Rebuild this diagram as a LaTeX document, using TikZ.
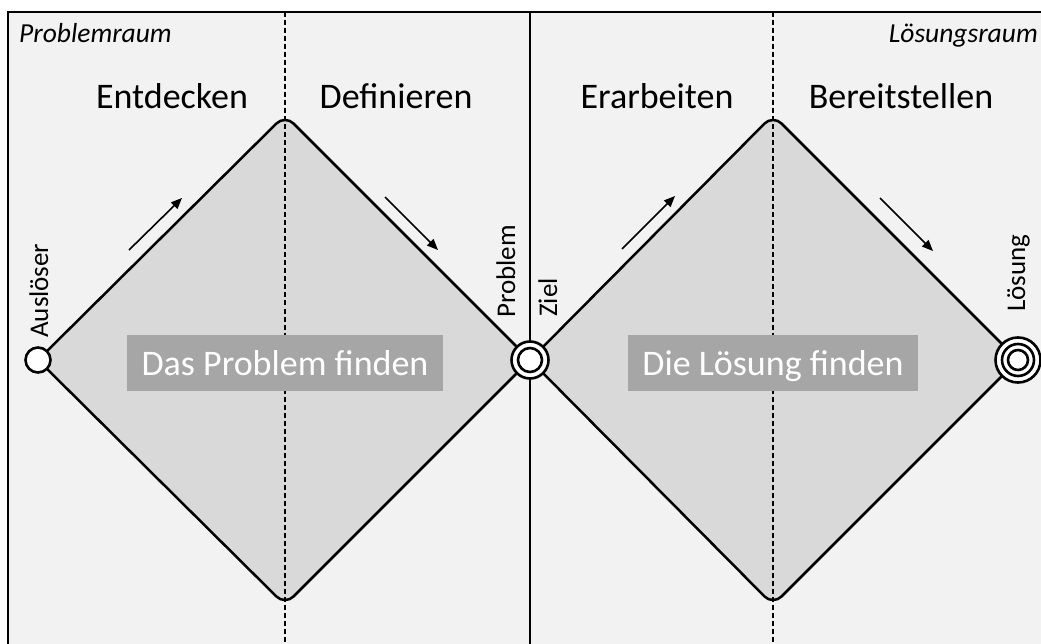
\documentclass[tikz,border=0pt]{standalone}
\usepackage{fontspec}
\setmainfont{Carlito}
\usetikzlibrary{arrows.meta}
\definecolor{bgc}{HTML}{F2F2F2}
\definecolor{dfill}{HTML}{D9D9D9}
\definecolor{boxc}{HTML}{A6A6A6}
\begin{document}
\begin{tikzpicture}[x=1pt,y=-1pt,
  frameline/.style={line width=2pt},
  diamondshape/.style={fill=dfill,draw=black,line width=2.5pt,rounded corners=12pt},
  divider/.style={line width=1.6pt,dash pattern=on 5pt off 3pt},
  phase/.style={font=\fontsize{36}{40}\selectfont,anchor=base,inner sep=0pt},
  spacelabel/.style={font=\fontsize{27.5}{30}\selectfont\itshape,inner sep=0pt},
  sidelabel/.style={font=\fontsize{27}{30}\selectfont,rotate=90,anchor=base west,inner sep=0pt},
  titlebox/.style={fill=boxc,text=white,font=\fontsize{36}{40}\selectfont,inner xsep=14.5pt,inner ysep=0pt,text height=40pt,text depth=16pt,anchor=base},
  ring/.style={circle,draw=black,line width=2.6pt,fill=white,inner sep=0pt},
  innerring/.style={draw=black,line width=2.6pt},
  flow/.style={line width=1.6pt,-{Triangle[length=11pt,width=9pt]}}
]
\useasboundingbox (0,0) rectangle (1041,644);
% background panel
\fill[bgc] (7.5,12.5) rectangle (1041,644);

% diamonds
\coordinate (L1) at (38,360); \coordinate (T1) at (285,115);
\coordinate (R1) at (530,360); \coordinate (B1) at (285,605);
\coordinate (L2) at (530,360); \coordinate (T2) at (773,115);
\coordinate (R2) at (1018,360); \coordinate (B2) at (773,605);
\path[diamondshape] (L1) -- (T1) -- (R1) -- (B1) -- cycle;
\path[diamondshape] (L2) -- (T2) -- (R2) -- (B2) -- cycle;

% dividers
\coordinate (d1t) at (285,12.5); \coordinate (d1b) at (285,644);
\coordinate (d2t) at (773,12.5); \coordinate (d2b) at (773,644);
\coordinate (mt) at (530,12.5); \coordinate (mb) at (530,644);
\draw[divider] (d1t) -- (d1b);
\draw[divider] (d2t) -- (d2b);
\draw[frameline] (mt) -- (mb);
\draw[frameline] (7.5,644) -- (7.5,12.5) -- (1041,12.5);

% arrows
\coordinate (a1s) at (129,250); \coordinate (a1e) at (182,198);
\coordinate (a2s) at (385,197); \coordinate (a2e) at (438,250);
\coordinate (a3s) at (622,249); \coordinate (a3e) at (675,196);
\coordinate (a4s) at (880,198); \coordinate (a4e) at (933,251);
\draw[flow] (a1s) -- (a1e);
\draw[flow] (a2s) -- (a2e);
\draw[flow] (a3s) -- (a3e);
\draw[flow] (a4s) -- (a4e);

% title boxes
\node[titlebox] (box1) at (285,375) {Das Problem finden};
\node[titlebox] (box2) at (773,375) {Die Lösung finden};

% circles
\node[ring,minimum size=25pt] (trigger) at (L1) {};
\node[ring,minimum size=37pt] (problem) at (R1) {};
\draw[innerring] (problem.center) circle[radius=12pt];
\node[ring,minimum size=45pt] (solution) at (R2) {};
\draw[innerring] (solution.center) circle[radius=16pt];
\draw[innerring] (solution.center) circle[radius=10pt];

% labels
\node[spacelabel,anchor=base west] (praum) at (19,43) {Problemraum};
\node[spacelabel,anchor=base east] (lraum) at (1038,43) {Lösungsraum};
\node[phase] (p1) at (172,109) {Entdecken};
\node[phase] (p2) at (396,109) {Definieren};
\node[phase] (p3) at (657,109) {Erarbeiten};
\node[phase] (p4) at (901,109) {Bereitstellen};
\node[sidelabel] (lab1) at (48,338) {Auslöser};
\node[sidelabel] (lab2) at (515,318) {Problem};
\node[sidelabel] (lab3) at (557,317) {Ziel};
\node[sidelabel] (lab4) at (1025,312) {Lösung};
\end{tikzpicture}
\end{document}
